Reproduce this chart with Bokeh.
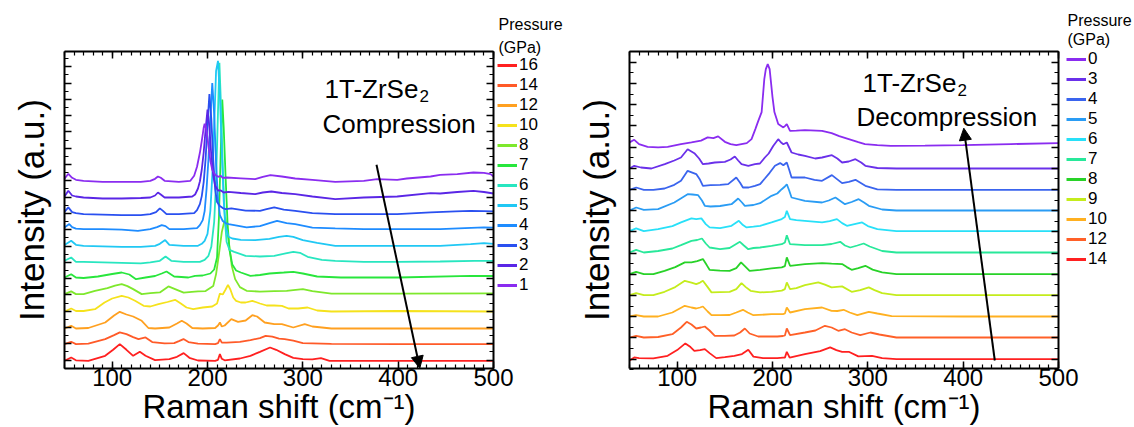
import numpy as np
from bokeh.plotting import figure
from bokeh.layouts import row
from bokeh.models import (Range1d, LinearAxis, FixedTicker, SingleIntervalTicker,
                          CustomJSTickFormatter, Label, Legend, LegendItem, Arrow, NormalHead)
from bokeh.embed import file_html
from bokeh.resources import INLINE

FONT = "Liberation Sans"

# ---------------- Compression (left panel) ----------------
comp_pressures = [16, 14, 12, 10, 8, 7, 6, 5, 4, 3, 2, 1]
comp_colors = ["#ff2020", "#ff5a28", "#ffa020", "#f5e21c", "#7ee82c", "#28e63c",
               "#28e6c0", "#20c8f4", "#1e8cff", "#2a50f0", "#5a26e6", "#8a2cf0"]
comp_offsets = [7.7, 24.4, 40, 57, 74.4, 91, 106.7, 122.7, 139.4, 154.4, 171, 187.7]

comp_x_16 = [50, 57, 62, 75, 92.7, 101, 108, 115, 122, 129, 135, 145, 160, 168, 175, 181, 190, 208, 211, 213, 215, 218, 234, 245, 255, 265.6, 272, 281, 290, 300, 310, 319, 328, 400, 500]
comp_h_16 = [0, 3.3, 0.5, 0, 5, 11, 16.7, 11, 5, 9, 5, 0.7, 1.7, 4, 7.7, 3, 0.3, 0, 1, 6.7, 2, 0.5, 2.3, 5, 9, 13.3, 11, 6.7, 3, 1.7, 1.5, 2.7, 0, 0, 0]
comp_x_14 = [50, 57, 62, 75, 92.7, 102, 108, 115, 122, 127.6, 135, 142, 155, 165, 170, 174.8, 180, 190, 208, 211, 213, 215, 220, 234, 245, 255, 261, 268, 275, 281, 290, 300, 330, 400, 500]
comp_h_14 = [0, 2.3, 0, 0.5, 5, 9, 11.7, 10, 7, 5, 6.7, 2, 0.7, 1, 3, 5, 2, 0.5, 0, 1, 5, 1.5, 1.5, 2.3, 4, 6, 8.3, 7.5, 5.5, 5, 3.5, 1, 0.3, 0, 0]
comp_x_12 = [50, 57, 62, 75, 92.7, 102, 108, 115, 122, 131, 138, 145, 160, 168, 173, 178, 184, 195, 208, 211, 213, 215, 218, 225, 232, 240, 247, 252, 260, 270, 278, 290, 302, 310, 330, 400, 500]
comp_h_12 = [0, 2.7, 0, 0.5, 6, 13, 16.7, 14, 12, 7.7, 0.5, 0, 1, 5, 7.7, 5, 0.5, 0, 0.5, 3, 6, 2, 3, 9.3, 6.7, 8, 13.3, 12, 6, 4.3, 4.3, 1, 4.3, 2, 0, 0, 0]
comp_x_10 = [50, 57, 62, 70, 82, 92, 100, 110, 117, 124, 133, 140, 148.6, 158, 166, 172, 178, 185, 195, 205, 210, 213, 216, 219, 221.5, 224, 227, 230, 235, 240, 247, 255, 262, 270, 278, 285, 295, 305, 315, 330, 400, 500]
comp_h_10 = [0, 3, 0.5, 0.5, 2.3, 9, 13, 15.7, 14, 10.7, 5.7, 5, 7.3, 9.5, 11.7, 8, 4, 2.3, 4, 5, 8, 18, 17, 22, 26.7, 22, 14, 10.7, 9, 9, 10.7, 8, 6, 6, 5.7, 3, 3, 4, 1, 0, 0.5, 0]
comp_x_8 = [50, 57, 62, 70, 82, 95, 103, 110, 116, 122, 131, 140, 150, 159, 166, 175, 183.6, 190, 198, 206, 209, 212, 215, 218.6, 222, 225.5, 229, 234, 241, 255, 270, 283, 290, 300, 310, 330, 400, 500]
comp_h_8 = [0, 2.7, 0, 0, 3.3, 6, 8.5, 10, 8, 5, 0, 1, 1.7, 7.7, 5, 1.5, 2.3, 2.7, 3, 8, 20, 40, 62, 76.6, 55, 28, 15, 7, 3.3, 2.5, 3, 3.3, 4, 5, 3, 0.5, 0.5, 0.7]
comp_x_7 = [50, 57, 62, 70, 85, 100, 110, 118, 125, 135, 145, 152, 157, 165, 180, 187, 195, 203, 207, 210, 212, 214, 215.5, 217, 219, 221, 223, 226, 230, 235, 245, 255, 265, 280, 290, 300, 315, 340, 400, 476, 500]
comp_h_7 = [0, 3.3, 0, -0.5, 1, 3.5, 5, 3, -1.7, 0, 1.5, 4, 6, 1, 0, 1.7, 2, 4, 8, 20, 60, 130, 178, 150, 100, 55, 28, 13, 7, 5, 1.7, 2.5, 4, 5, 5.7, 4, 1, 0, 0, 1.7, 1.5]
comp_x_6 = [50, 57, 62, 70, 90, 110, 130, 140, 150, 156, 162, 175, 192, 197, 201, 204, 207, 209, 211, 212.5, 214, 216, 218, 220, 223, 228, 240, 255, 270, 282, 290, 297, 305, 320, 334, 364, 399, 444, 480, 500]
comp_h_6 = [1, 4.3, 0, 0, -0.5, -1, -1.5, -0.5, 1, 5.3, 1, 0, 0, 2, 6, 15, 40, 80, 150, 199, 160, 95, 45, 20, 12, 10, 6, 5.3, 6, 8.5, 10, 9, 5, 2, 1, 0, 0, 0.3, 1, 1]
comp_x_5 = [50, 57, 62, 70, 90, 110, 130, 145, 150, 155.6, 160, 175, 190, 194, 197, 200, 203, 205, 207, 209, 211, 213, 215, 217, 219, 222, 226, 235, 250, 265, 275, 283, 290, 300, 315, 334, 364, 399, 444, 476, 490, 500]
comp_h_5 = [0.7, 5, 1, 0, -0.5, -1, -1, 0, 2, 5.7, 1, 0, 0, 2, 5, 12, 35, 70, 120, 175, 185, 150, 95, 45, 20, 9, 7.3, 6, 5.7, 7, 9, 10, 9, 5.7, 3, 0, 0, 0, 0, 1.7, 2.7, 2]
comp_x_4 = [50, 55, 58, 62, 70, 90, 110, 127, 140, 147, 152, 156, 160, 175, 189, 192, 195, 197, 199, 201, 203, 205, 207, 209, 211, 213, 216, 219, 222, 228, 241, 255, 265, 273, 283, 292, 310, 334, 364, 399, 444, 470, 490, 500]
comp_h_4 = [1.7, 5, 2, 0.5, 0, 0, -0.5, -1.7, 0, 2, 4, 3, 0, 0, 1, 4, 9, 18, 40, 70, 110, 146, 115, 65, 30, 14, 8, 6, 5, 4, 1.7, 3, 6, 8.3, 6, 5, 1.5, 0.7, 0, 0, 0, 1, 1.7, 1.5]
comp_x_3 = [50, 54, 58, 62, 70, 90, 110, 130, 140, 146, 150, 153, 157, 170, 186, 189, 192, 194, 196, 198, 200, 202, 204, 206, 208, 210, 213, 216, 219, 225, 240, 255, 262, 270, 280, 292, 310, 334, 364, 399, 434, 460, 476, 490, 500]
comp_h_3 = [2.3, 6.7, 2, 1, 0, -0.5, -1, -1, 0, 2, 5.7, 3.5, 0, 0, 1, 4, 10, 18, 32, 55, 90, 120, 95, 55, 25, 12, 8, 6, 5, 5.7, 3.5, 3.3, 5, 6.7, 4.5, 3.3, 1, 0, 0, 0, 1.7, 2.7, 3.3, 3, 2.7]
comp_x_2 = [50, 54, 58, 62, 70, 90, 110, 130, 140, 145, 148, 151, 155, 170, 184, 187, 190, 192, 194, 196, 198, 200, 202, 204, 206, 208, 211, 214, 217, 222, 235, 250, 258, 267, 278, 292, 310, 334, 364, 399, 434, 444, 462, 479, 490, 500]
comp_h_2 = [1, 6.7, 2, 1, 0, -1, -1, -0.5, 0, 2, 5, 3, 0, 0, 1, 3, 9, 16, 28, 45, 68, 88, 70, 42, 22, 12, 7, 7, 5, 5.7, 4.5, 3.3, 5, 6, 4.5, 3.3, 1, -1.7, 0, 1, 4.3, 4, 5.5, 6.7, 5.5, 4]
comp_x_1 = [50, 54, 58, 62, 70, 90, 110, 130, 140, 145, 148, 151, 155, 170, 182, 186, 189, 192, 194, 196, 197, 199, 201, 203, 205, 208, 211, 214, 216, 220, 235, 250, 258, 266, 278, 292, 310, 334, 364, 378, 399, 409, 434, 444, 462, 479, 490, 497, 500]
comp_h_1 = [2, 7, 3, 1, 0, -1, -1, -1, 0, 2, 4.3, 3, 0, -1, 0, 5, 14, 28, 40, 53, 57, 50, 35, 20, 11, 6, 4, 5, 3, 3.3, 2.5, 1.7, 4, 5.7, 4.3, 2.3, 1, -1, 0, 1.7, 1, 2.3, 4.3, 6, 6.7, 8.3, 8, 6.7, 4.3]

comp_x = [comp_x_16, comp_x_14, comp_x_12, comp_x_10, comp_x_8, comp_x_7,
          comp_x_6, comp_x_5, comp_x_4, comp_x_3, comp_x_2, comp_x_1]
comp_h = [comp_h_16, comp_h_14, comp_h_12, comp_h_10, comp_h_8, comp_h_7,
          comp_h_6, comp_h_5, comp_h_4, comp_h_3, comp_h_2, comp_h_1]

# ---------------- Decompression (right panel) ----------------
dec_pressures = [0, 3, 4, 5, 6, 7, 8, 9, 10, 12, 14]
dec_colors = ["#8a2cf0", "#6a30ea", "#3a64ee", "#2a9cf4", "#28e0f8", "#28e89a",
              "#28d228", "#c4ec1c", "#ffb020", "#ff6028", "#ff2020"]
dec_offsets = [223.4, 200, 178.7, 158, 137.4, 116, 94.4, 73.4, 52, 31, 9.4]

dec_x_0 = [50, 55, 60, 69, 80, 90, 104, 115, 125, 132, 138, 143, 150, 156, 162, 173, 178, 182, 185, 188.6, 191.4, 193, 195, 197, 198.4, 200, 202, 206, 211.4, 213, 215, 218.4, 225, 234, 252, 262, 270, 280, 290, 297, 310, 324, 360, 400, 450, 500]
dec_h_0 = [2.7, 5.3, 1, -1.7, -2.3, -1.7, 1, 2.7, 4.5, 7.7, 7, 8.7, 3.3, 1, 0, 2, 6, 16, 24, 33, 66, 76, 81, 76, 63, 48, 33, 21, 17.7, 19, 21, 14.3, 14.5, 15, 14.3, 12, 9, 6, 3, 1, 0, -0.7, -0.5, 0, 1, 2]
dec_x_3 = [50, 55, 62, 73, 87, 97, 104, 111, 118, 123, 127, 133, 139.5, 150, 156, 160.5, 164, 167.5, 174.6, 181.6, 186.8, 192, 196, 200.9, 206, 209, 211.4, 215, 217, 220, 227, 234, 244.8, 252, 262.3, 268, 273, 280, 287, 293, 297.4, 310, 330, 400, 500]
dec_h_3 = [0, 2.7, 1, 0, 4.3, 8, 11, 19.3, 15.3, 10, 4.3, 5, 6, 6.7, 9, 12, 8, 4.3, 2.7, 4.3, 5, 11, 15, 22.7, 29.3, 26, 24.3, 26, 22, 16, 14, 12.7, 10, 11, 13.3, 10, 6, 7, 9.3, 6, 2.7, 0.5, 0, 0, 0]
dec_x_4 = [50, 57, 65, 75, 86.8, 97, 104, 111, 120, 124, 127, 135, 145, 153.5, 162, 166, 169, 175, 181.6, 187, 192, 197, 202.6, 208, 211.4, 215, 217.5, 220, 234, 244, 252, 262.3, 273, 280, 287, 297.4, 310, 330, 400, 500]
dec_h_4 = [0, 2.3, 0, 0, 1.3, 5, 9, 19, 15.7, 10, 4, 4.7, 5, 5.7, 12.3, 7, 2.3, 2.3, 4, 5.7, 11.3, 17, 24, 26.7, 24.5, 27.3, 20, 12.3, 12.3, 10, 9, 14.7, 6.7, 8, 10, 4, 0.5, 0, 0, 0]
dec_x_5 = [50, 57, 65, 80, 97, 111, 116, 122, 126, 129, 135, 145, 157, 164, 168, 171, 180, 187, 199, 205, 209.7, 213, 215, 217.5, 220, 234, 252, 259, 266, 276, 283, 290.4, 296, 301, 315, 330, 400, 500]
dec_h_5 = [0, 3, 0.7, 1.3, 8, 16.3, 16, 15.3, 10, 4.7, 4, 4.5, 6.3, 12, 8, 4.7, 5.5, 7.3, 14.7, 17, 21.3, 24, 26.3, 20, 13, 9.7, 8, 10, 13, 6.3, 8.5, 11.3, 8, 4.7, 1, 0, 0, 0]
dec_x_6 = [50, 57, 65, 80, 95, 104, 115, 120, 125.4, 130, 134, 145, 157, 164.7, 169, 172.8, 180, 187, 199, 209.7, 213, 215, 218.4, 225, 234, 252, 260, 267.6, 273, 278, 286, 294, 300, 310, 330, 400, 500]
dec_h_6 = [0, 2.7, 0, 2, 5, 8.7, 12.7, 12, 12.7, 7, 3.7, 3, 5.3, 10.3, 6, 3.7, 4.5, 5.3, 8.7, 12, 14, 20.3, 12, 11, 10.3, 8.7, 10, 12, 8, 5.3, 7, 8.7, 5, 2, 0, 0, 0]
dec_x_7 = [50, 57, 65, 80, 95, 104, 115, 121, 126, 130, 134, 145, 155, 165.8, 170, 174.6, 180, 187, 199, 209.7, 213, 215, 218.4, 234, 252, 262, 271, 276, 281.6, 289, 295.6, 302, 315, 330, 400, 500]
dec_h_7 = [0, 2.7, 0, 1.5, 4, 7.3, 11.7, 12.5, 14, 9, 5, 3.3, 4.5, 10.7, 7, 3.3, 4.5, 5, 6.7, 8.3, 10, 17.3, 8.3, 7.3, 7.3, 8.5, 10.7, 7, 5, 7, 9, 6, 1.5, 0, 0, 0]
dec_x_8 = [50, 57, 65, 75, 86.8, 98, 108, 115, 121, 127, 131, 134, 145, 155, 162, 167, 171, 176, 187, 199, 209.7, 213, 215, 218.4, 234, 252, 262, 273, 278, 283, 290, 297.4, 305, 315, 330, 400, 500]
dec_h_8 = [0, 2.3, 0, 0, 3.3, 7, 11.7, 11.7, 13, 15, 9, 4.3, 3.5, 3.3, 6, 11.7, 8, 3.3, 4.3, 5.7, 6.7, 8, 16.7, 8.3, 10, 11, 10.5, 10, 7, 4.3, 6, 8.3, 4.5, 1.7, 0, 0, 0]
dec_x_9 = [50, 57, 65, 75, 86.8, 98, 108, 115, 120, 124, 127, 132, 136, 145, 155, 162, 167.5, 172, 177, 187, 199, 209.7, 213, 215, 218.4, 225, 234, 248, 255, 262, 273, 283, 292, 301, 307, 315, 330, 400, 500]
dec_h_9 = [0, 2, 0, 0, 3.3, 8, 14.3, 12.5, 11, 12.5, 14.3, 8, 2.7, 3, 3.3, 6, 12, 8, 4.3, 2.7, 3.3, 4.5, 6, 12.7, 6, 7, 10, 12.7, 10.5, 7.7, 8.7, 3.3, 5, 7.7, 5, 2, 0, 0, 0]
dec_x_10 = [50, 57, 65, 80, 95, 108, 115, 120, 124, 127, 132, 136, 145, 155, 162, 169, 174, 180, 199, 211, 213, 215, 218.4, 234, 252, 262, 268, 274.6, 281, 289, 301, 310, 325, 400, 500]
dec_h_10 = [0, 1.3, 0, 0, 4, 10.7, 9, 8, 9, 10, 5, 1.3, 1.3, 1.5, 4, 6.7, 4, 1.3, 2.3, 2.3, 3, 9, 4, 7.3, 9, 5.7, 5.5, 6.7, 4, 1.3, 4.7, 3, 0.3, 0, 0]
dec_x_12 = [50, 57, 65, 80, 95, 104, 110, 115, 120, 125, 129, 134, 139.5, 150, 160, 166, 171, 176, 185, 205, 211, 213, 215, 218.4, 234, 245, 255, 262, 269, 276, 283, 292, 302.7, 312, 330, 400, 500]
dec_h_12 = [0, 1.7, 0, 0.5, 3.3, 10, 15.7, 13, 9, 10, 11, 7, 1.7, 1.7, 2, 5, 9, 4, 1, 1, 1.5, 2, 9, 2.3, 5, 7, 11.7, 10, 6.7, 8.3, 5, 2.3, 5, 3, 0, 0, 0]
dec_x_14 = [50, 55, 60, 75, 90, 100, 108.6, 114, 118, 124, 129, 134, 141, 150, 160, 168, 174.6, 180, 190, 205, 211, 213, 215, 218, 234, 250, 260.5, 267, 273, 280, 290, 304.4, 315, 330, 400, 500]
dec_h_14 = [-1.5, 1.7, 1, 0.7, 3.3, 9, 15.7, 12, 8.3, 9, 10, 6, 1, 2, 3.3, 5, 9.3, 2.5, 1, 1, 1.5, 1.5, 7.3, 1.5, 5, 8, 11.7, 9, 7.3, 7.3, 2.7, 3.3, 1, 0, 0, 0]

dec_x = [dec_x_0, dec_x_3, dec_x_4, dec_x_5, dec_x_6, dec_x_7, dec_x_8, dec_x_9,
         dec_x_10, dec_x_12, dec_x_14]
dec_h = [dec_h_0, dec_h_3, dec_h_4, dec_h_5, dec_h_6, dec_h_7, dec_h_8, dec_h_9,
         dec_h_10, dec_h_12, dec_h_14]

# ---------------- layout constants (pixels) ----------------
FIG_W, FIG_H = 567, 427
BOX_W, BOX_H = 429, 317          # size of the drawn plot box
TOP = 51                          # top of the plot box
BOTTOM_Y = TOP + BOX_H            # bottom of the plot box
XMIN, XMAX = 50, 500


def empty_fmt():
    return CustomJSTickFormatter(code="return ''")


def style_axis(ax):
    ax.axis_line_width = 2
    ax.axis_line_color = "black"
    ax.major_tick_in = 7
    ax.major_tick_out = 0
    ax.minor_tick_in = 4
    ax.minor_tick_out = 0
    ax.major_tick_line_width = 1.5
    ax.minor_tick_line_width = 1.2
    ax.major_label_standoff = 0


def build(pressures, colors, offsets, xs, hs, box_left, canvas_left, y_major_start,
          y_major_step, draw_order, legend_gx, items_top, title_gy, gpa_gy,
          text1_gx, text1_gy, sub_gy, text2, text2_gx, text2_gy, arrow_g):
    k = (XMAX - XMIN) / BOX_W          # data units per pixel along x
    box_left_g = canvas_left + box_left

    def gx(px):
        return XMIN + (px - box_left_g) * k

    def gy(py):
        return BOTTOM_Y - py

    p = figure(width=FIG_W, height=FIG_H,
               x_range=Range1d(XMIN - box_left * k, XMIN + (FIG_W - box_left) * k),
               y_range=Range1d(BOTTOM_Y - FIG_H, BOTTOM_Y),
               output_backend="svg", toolbar_location=None,
               x_axis_type=None, y_axis_type=None, min_border=0,
               min_border_left=0, min_border_right=0, min_border_top=0, min_border_bottom=0)
    p.xgrid.visible = False
    p.ygrid.visible = False
    p.outline_line_color = None
    p.background_fill_color = "white"
    p.border_fill_color = "white"

    ymaj = list(np.arange(y_major_start, BOX_H, y_major_step))
    ymin = list(np.arange(y_major_start - y_major_step / 2, BOX_H, y_major_step))

    xb = LinearAxis(ticker=SingleIntervalTicker(interval=100, num_minor_ticks=10),
                    fixed_location=0, bounds=(XMIN, XMAX))
    style_axis(xb)
    xb.major_label_text_font = FONT
    xb.major_label_text_font_size = "24px"
    xb.major_label_text_color = "black"
    xb.axis_label = "Raman shift (cm\u207b\u00b9)"
    xb.axis_label_text_font = FONT
    xb.axis_label_text_font_size = "33px"
    xb.axis_label_text_font_style = "normal"
    xb.axis_label_text_color = "black"
    xb.axis_label_standoff = -1
    p.add_layout(xb, "below")

    xt = LinearAxis(ticker=SingleIntervalTicker(interval=100, num_minor_ticks=10),
                    fixed_location=BOX_H, bounds=(XMIN, XMAX))
    style_axis(xt)
    xt.formatter = empty_fmt()
    p.add_layout(xt, "above")

    yl = LinearAxis(ticker=FixedTicker(ticks=ymaj, minor_ticks=ymin),
                    fixed_location=XMIN, bounds=(0, BOX_H))
    style_axis(yl)
    yl.formatter = empty_fmt()
    yl.axis_label = "Intensity (a.u.)"
    yl.axis_label_text_font = FONT
    yl.axis_label_text_font_size = "35px"
    yl.axis_label_text_font_style = "normal"
    yl.axis_label_text_color = "black"
    yl.axis_label_standoff = 14
    p.add_layout(yl, "left")

    yr = LinearAxis(ticker=FixedTicker(ticks=ymaj, minor_ticks=ymin),
                    fixed_location=XMAX, bounds=(0, BOX_H))
    style_axis(yr)
    yr.formatter = empty_fmt()
    p.add_layout(yr, "right")

    for i in draw_order:
        x = np.array(xs[i], dtype=float)
        y = offsets[i] + np.array(hs[i], dtype=float)
        p.line(x, y, line_color=colors[i], line_width=1.8)

    # legend
    items = []
    for pr, c in zip(pressures, colors):
        r = p.line(x=[np.nan], y=[np.nan], line_color=c, line_width=3)
        items.append(LegendItem(label=str(pr), renderers=[r]))
    n = len(pressures)
    leg = Legend(items=items,
                 location=(legend_gx - canvas_left, FIG_H - (items_top + 20 * n)),
                 padding=0, margin=0, spacing=0,
                 glyph_width=20, glyph_height=20, label_height=20, label_standoff=2,
                 label_text_font=FONT, label_text_font_size="17px", label_text_color="black",
                 border_line_alpha=0, background_fill_alpha=0)
    p.add_layout(leg)

    def lab(text, px, py, size, baseline="alphabetic"):
        p.add_layout(Label(x=gx(px), y=gy(py), text=text, text_font=FONT,
                           text_font_size=size, text_color="black",
                           text_align="left", text_baseline=baseline))

    lab("Pressure", legend_gx + 1, title_gy, "16px", baseline="middle")
    lab("(GPa)", legend_gx + 1, gpa_gy, "16px", baseline="middle")

    lab("1T-ZrSe", text1_gx, text1_gy, "26px")
    lab("2", text1_gx + 95, sub_gy, "17px")
    lab(text2, text2_gx, text2_gy, "26px")

    (ax0, ay0, ax1, ay1) = arrow_g
    p.add_layout(Arrow(end=NormalHead(size=12, fill_color="black", line_color="black"),
                       x_start=gx(ax0), y_start=gy(ay0), x_end=gx(ax1), y_end=gy(ay1),
                       line_color="black", line_width=2))
    return p


n_c = len(comp_pressures)
p_left = build(comp_pressures, comp_colors, comp_offsets, comp_x, comp_h,
               box_left=64, canvas_left=0, y_major_start=8.4, y_major_step=16.3,
               draw_order=list(range(n_c)),
               legend_gx=497, items_top=55, title_gy=24, gpa_gy=47,
               text1_gx=324, text1_gy=88.3, sub_gy=95,
               text2="Compression", text2_gx=322, text2_gy=123.3,
               arrow_g=(376, 164.3, 419.3, 367.7))

n_d = len(dec_pressures)
p_right = build(dec_pressures, dec_colors, dec_offsets, dec_x, dec_h,
                box_left=62, canvas_left=567, y_major_start=9.4, y_major_step=21.2,
                draw_order=list(range(n_d))[::-1],
                legend_gx=1066, items_top=49, title_gy=20, gpa_gy=39,
                text1_gx=862, text1_gy=82.3, sub_gy=89,
                text2="Decompression", text2_gx=856, text2_gy=116.7,
                arrow_g=(994.3, 360, 963.3, 127.7))

layout = row(p_left, p_right)
open("out.html", "w").write(file_html(layout, INLINE))
